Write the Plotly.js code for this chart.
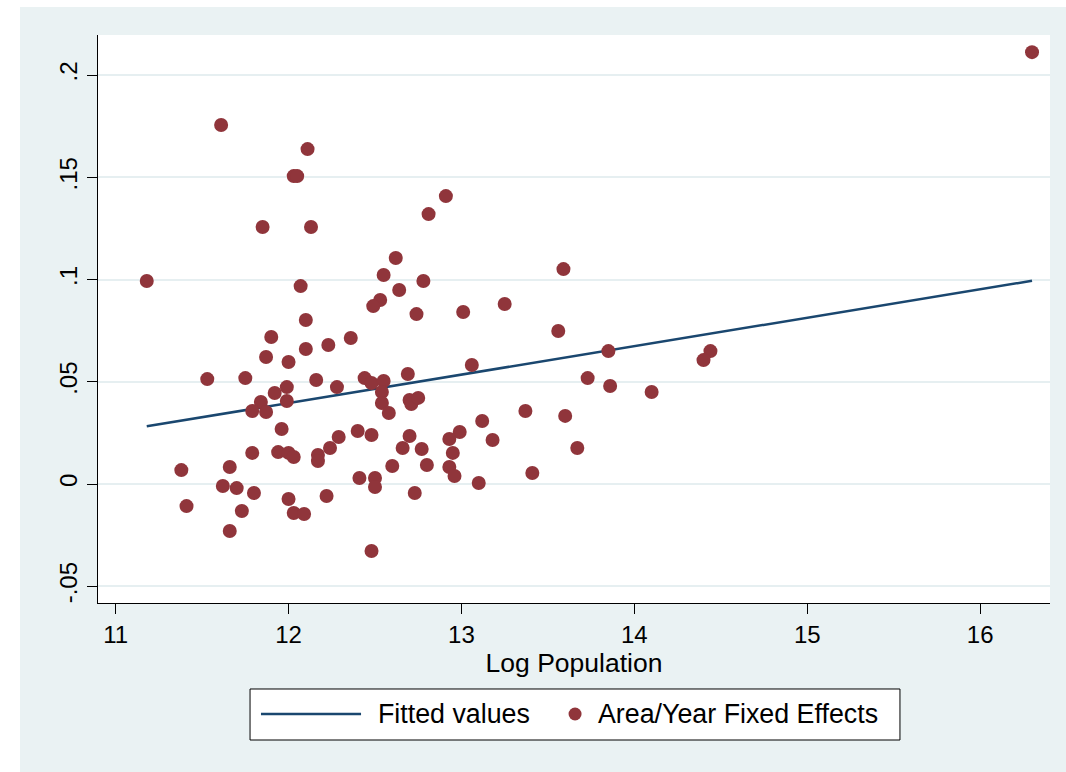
<!DOCTYPE html>
<html>
<head>
<meta charset="utf-8">
<script src="https://cdn.plot.ly/plotly-3.0.1.min.js"></script>
<style>
  html, body { margin: 0; padding: 0; background: #ffffff; }
  #chart { position: absolute; left: 20px; top: 7px; width: 1046px; height: 765px; }
</style>
</head>
<body>
<div id="chart"></div>
<script>
// Data
const logPopulation = [
  11.18, 11.61, 12.11, 12.03, 12.05, 11.85, 12.13, 12.07, 12.10, 11.90,
  12.10, 12.23, 12.36, 11.53, 11.75, 11.87, 12.00, 12.16, 12.28, 11.99,
  11.92, 11.84, 11.99, 11.79, 11.87, 11.96, 11.79, 11.94, 12.00, 12.03,
  12.17, 12.17, 12.24, 12.29, 11.38, 11.66, 11.62, 11.70, 11.80, 11.41,
  11.73, 12.00, 12.03, 12.09, 12.22, 11.66, 12.91, 12.81, 12.62, 12.55,
  13.59, 12.78, 12.64, 12.53, 12.49, 13.25, 12.74, 13.01, 13.56, 13.06,
  12.69, 12.44, 12.48, 12.55, 12.54, 12.54, 12.58, 12.70, 12.71, 12.75,
  13.37, 13.60, 13.12, 13.18, 12.40, 12.48, 12.70, 12.99, 12.93, 12.95,
  12.66, 12.77, 13.67, 12.60, 12.80, 12.93, 12.96, 12.41, 12.50, 12.50,
  13.10, 13.41, 12.73, 12.48, 13.85, 14.44, 14.40, 13.73, 13.86, 14.10,
  16.30
];
const fixedEffects = [
  0.0993, 0.1756, 0.1638, 0.1506, 0.1506, 0.1257, 0.1257, 0.0968, 0.0802, 0.0719,
  0.0660, 0.0680, 0.0714, 0.0513, 0.0518, 0.0621, 0.0597, 0.0509, 0.0474, 0.0474,
  0.0445, 0.0401, 0.0406, 0.0357, 0.0352, 0.0269, 0.0152, 0.0156, 0.0152, 0.0132,
  0.0142, 0.0112, 0.0176, 0.0230, 0.0068, 0.0083, -0.0010, -0.0020, -0.0044, -0.0108,
  -0.0132, -0.0073, -0.0142, -0.0147, -0.0059, -0.0230, 0.1408, 0.1320, 0.1105, 0.1022,
  0.1051, 0.0993, 0.0949, 0.0900, 0.0870, 0.0880, 0.0831, 0.0841, 0.0748, 0.0582,
  0.0538, 0.0518, 0.0494, 0.0504, 0.0450, 0.0396, 0.0347, 0.0411, 0.0391, 0.0421,
  0.0357, 0.0333, 0.0308, 0.0215, 0.0259, 0.0240, 0.0235, 0.0254, 0.0220, 0.0152,
  0.0176, 0.0171, 0.0176, 0.0088, 0.0093, 0.0083, 0.0039, 0.0029, 0.0029, -0.0015,
  0.0005, 0.0054, -0.0044, -0.0328, 0.0650, 0.0650, 0.0606, 0.0518, 0.0479, 0.0450,
  0.2112
];
const fittedX = [11.18, 16.30];
const fittedY = [0.0282, 0.0994];

const xTickVals = [11, 12, 13, 14, 15, 16];
const xTickText = ['11', '12', '13', '14', '15', '16'];
const yTickVals = [-0.05, 0, 0.05, 0.1, 0.15, 0.2];
const yTickText = ['-.05', '0', '.05', '.1', '.15', '.2'];
const seriesNames = ['Fitted values', 'Area/Year Fixed Effects'];

const FONT = '"Liberation Sans", Arial, sans-serif';
const LINE_COLOR = '#1A476F';
const DOT_COLOR = '#90353B';

const traces = [
  {
    x: fittedX, y: fittedY, type: 'scatter', mode: 'lines',
    name: seriesNames[0],
    line: { color: LINE_COLOR, width: 2.5 }
  },
  {
    x: logPopulation, y: fixedEffects, type: 'scatter', mode: 'markers',
    name: seriesNames[1],
    marker: { color: DOT_COLOR, size: 14, line: { width: 0 } }
  }
];

// Legend (Stata style) drawn in paper coordinates
const legY = -0.1954;
const shapes = [
  { type: 'rect', xref: 'paper', yref: 'paper', x0: 0.1597, x1: 0.8424, y0: -0.1514, y1: -0.2412,
    fillcolor: '#FFFFFF', line: { color: '#000000', width: 1 }, layer: 'above' },
  { type: 'line', xref: 'paper', yref: 'paper', x0: 0.1712, x1: 0.2763, y0: legY, y1: legY,
    line: { color: LINE_COLOR, width: 2.5 }, layer: 'above' },
  { type: 'circle', xref: 'paper', yref: 'paper', xsizemode: 'pixel', ysizemode: 'pixel',
    xanchor: 0.5011, yanchor: legY, x0: -6.5, x1: 6.5, y0: -6.5, y1: 6.5,
    fillcolor: DOT_COLOR, line: { width: 0 }, layer: 'above' }
];
const annotations = [
  { xref: 'paper', yref: 'paper', x: 0.2920, y: legY, xanchor: 'left', yanchor: 'middle',
    text: seriesNames[0], showarrow: false, font: { family: FONT, size: 26.8, color: '#000000' } },
  { xref: 'paper', yref: 'paper', x: 0.5232, y: legY, xanchor: 'left', yanchor: 'middle',
    text: seriesNames[1], showarrow: false, font: { family: FONT, size: 26.8, color: '#000000' } }
];

const layout = {
  width: 1046, height: 765,
  paper_bgcolor: '#EAF2F3',
  plot_bgcolor: '#FFFFFF',
  margin: { l: 78, r: 16, t: 28, b: 169 },
  font: { family: FONT, color: '#000000', size: 24 },
  showlegend: false,
  shapes: shapes,
  annotations: annotations,
  xaxis: {
    range: [10.898, 16.404],
    tickmode: 'array', tickvals: xTickVals, ticktext: xTickText,
    ticks: 'outside', ticklen: 10, tickwidth: 1, tickcolor: '#000000',
    showline: true, linecolor: '#000000', linewidth: 1,
    showgrid: false, zeroline: false,
    tickfont: { family: FONT, size: 24, color: '#000000' },
    title: { text: 'Log Population', font: { family: FONT, size: 26.5, color: '#000000' }, standoff: 0 }
  },
  yaxis: {
    range: [-0.0582, 0.2196],
    tickmode: 'array', tickvals: yTickVals, ticktext: yTickText,
    ticks: 'outside', ticklen: 10, tickwidth: 1, tickcolor: '#000000',
    tickangle: -90,
    showline: true, linecolor: '#000000', linewidth: 1,
    showgrid: true, gridcolor: '#E6EFF1', gridwidth: 2,
    zeroline: false,
    tickfont: { family: FONT, size: 24, color: '#000000' }
  }
};

Plotly.newPlot('chart', traces, layout, { displayModeBar: false, staticPlot: true });
</script>
</body>
</html>
